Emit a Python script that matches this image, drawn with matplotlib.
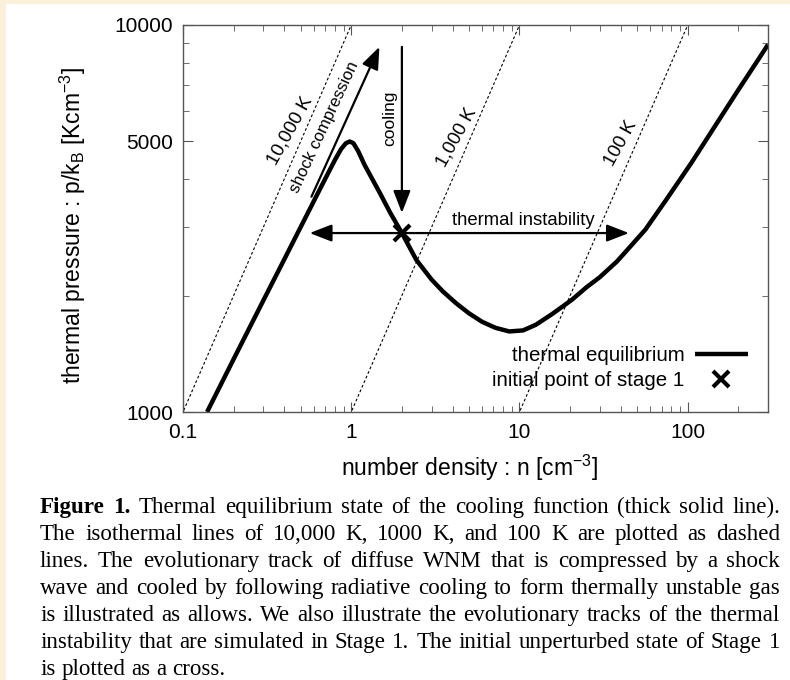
import matplotlib.pyplot as plt
from matplotlib.patches import Rectangle
from matplotlib.ticker import FixedLocator, NullFormatter

# thermal equilibrium curve (n [cm^-3], p/kB [K cm^-3])
n_eq = [0.139, 0.2, 0.3, 0.4, 0.48, 0.62, 0.72, 0.8, 0.87, 0.93, 0.98, 1.03,
        1.1, 1.2, 1.47, 1.7, 2.0, 2.44, 3.0, 3.5, 4.2, 5.0, 6.0, 7.2, 8.7,
        10.5, 12.5, 15.6, 20.5, 25, 30, 38, 45, 56, 75, 105, 150, 200, 263, 300]
p_eq = [1000, 1370, 1940, 2480, 2900, 3610, 4100, 4480, 4780, 4950, 5000, 4950,
        4720, 4350, 3700, 3280, 2900, 2470, 2200, 2050, 1910, 1800, 1710, 1650, 1615,
        1625, 1680, 1790, 1950, 2100, 2230, 2450, 2660, 2960, 3550, 4400, 5600, 6800, 8150, 8900]

# isotherms p = n T
iso_T = [10000, 1000, 100]
iso_labels = ['10,000 K', '1,000 K', '100 K']
iso_label_pos = [(0.436, 5325), (4.2, 5135), (40, 4955)]
iso_n = [0.01, 1000]

# initial point of stage 1 and evolutionary tracks
n_init, p_init = 2.0, 2900
shock_from, shock_to = (0.58, 3600), (1.47, 8780)
cool_from, cool_to = (2.0, 8780), (2.0, 3270)
ti_left, ti_right = 0.566, 44.7

x_ticks = [0.1, 1, 10, 100]
x_ticklabels = ['0.1', '1', '10', '100']
y_ticks = [1000, 5000, 10000]
y_ticklabels = ['1000', '5000', '10000']
y_minor = [2000, 3000, 4000, 6000, 7000, 8000, 9000]

caption_lines = [
    "Figure 1. Thermal equilibrium state of the cooling function (thick solid line).",
    "The isothermal lines of 10,000 K, 1000 K, and 100 K are plotted as dashed",
    "lines. The evolutionary track of diffuse WNM that is compressed by a shock",
    "wave and cooled by following radiative cooling to form thermally unstable gas",
    "is illustrated as allows. We also illustrate the evolutionary tracks of the thermal",
    "instability that are simulated in Stage 1. The initial unperturbed state of Stage 1",
    "is plotted as a cross.",
]

W, H = 790, 680
plt.rcParams['font.family'] = ['Liberation Sans', 'DejaVu Sans']
fig = plt.figure(figsize=(W / 100, H / 100), dpi=100, facecolor='#fbf0da')
fig.patches.append(Rectangle((6 / W, 0), 1, 1 - 4 / H, transform=fig.transFigure,
                             facecolor='white', edgecolor='none', zorder=-10))

ax = fig.add_axes([183 / W, 1 - 412 / H, (768 - 183) / W, (412 - 25) / H])
ax.set_zorder(2)
ax.set_xscale('log')
ax.set_yscale('log')
ax.set_xlim(0.1, 300)
ax.set_ylim(1000, 10000)

for T, lab, (lx, ly) in zip(iso_T, iso_labels, iso_label_pos):
    ax.plot(iso_n, [T * n for n in iso_n], color='black', lw=0.8, ls=(0, (2.5, 2)))
    ax.text(lx, ly, lab, rotation=61, ha='center', va='center', fontsize=13.5)

curve, = ax.plot(n_eq, p_eq, color='black', lw=3.2, solid_capstyle='butt',
                 solid_joinstyle='round', label='thermal equilibrium')
cross, = ax.plot([n_init], [p_init], ls='none', marker='x', ms=12, mew=3,
                 color='black', label='initial point of stage 1', zorder=5)

arrow = dict(arrowstyle='-|>,head_length=0.9,head_width=0.35', color='black',
             lw=1.6, mutation_scale=15, shrinkA=0, shrinkB=0)
ax.annotate('', xy=shock_to, xytext=shock_from, arrowprops=arrow)
ax.annotate('', xy=cool_to, xytext=cool_from, arrowprops=arrow)
ax.annotate('', xy=(ti_left, p_init), xytext=(n_init, p_init), arrowprops=arrow)
ax.annotate('', xy=(ti_right, p_init), xytext=(n_init, p_init), arrowprops=arrow)

ax.text(0.69, 5450, 'shock compression', rotation=65, ha='center', va='center', fontsize=12)
ax.text(1.69, 5750, 'cooling', rotation=90, ha='center', va='center', fontsize=12.5)
ax.text(10.6, 3134, 'thermal instability', ha='center', va='center', fontsize=13.3)

ax.set_xticks(x_ticks)
ax.set_xticklabels(x_ticklabels)
ax.set_yticks(y_ticks)
ax.set_yticklabels(y_ticklabels)
ax.yaxis.set_minor_locator(FixedLocator(y_minor))
ax.yaxis.set_minor_formatter(NullFormatter())
ax.xaxis.set_minor_formatter(NullFormatter())
ax.tick_params(which='both', direction='in', top=True, right=True,
               color='#555555', labelsize=15)
ax.tick_params(which='major', length=7)
ax.tick_params(which='minor', length=4)
ax.tick_params(axis='x', pad=8)
ax.tick_params(axis='y', pad=7)
for s in ax.spines.values():
    s.set_color('#555555')
    s.set_linewidth(1)

ax.set_xlabel(r'number density : n [cm$^{\mathregular{-3}}$]', fontsize=16.5)
ax.set_ylabel(r'thermal pressure : p/k$_{\mathregular{B}}$ [Kcm$^{\mathregular{-3}}$]', fontsize=16.5)
ax.xaxis.set_label_coords(0.49, -0.106)
ax.yaxis.set_label_coords(-0.162, 0.483)

ax.legend(handles=[curve, cross], loc='lower right', bbox_to_anchor=(0.98, 0.035),
          frameon=False, markerfirst=False, handlelength=2.6, handletextpad=0.5,
          labelspacing=0.3, borderaxespad=0, fontsize=14.8)

# caption, justified between left and right margins
cap_left, cap_right = 40, 780
cap_base, cap_step = 513, 27
renderer = fig.canvas.get_renderer()
cap_size = 14
widest = 0
for line in caption_lines:
    t = fig.text(0, 0, line, fontsize=cap_size, family='Liberation Serif')
    widest = max(widest, t.get_window_extent(renderer).width)
    t.remove()
cap_size = min(17.5, cap_size * (cap_right - cap_left - 6) / widest)

space = cap_size * 100 / 72 * 0.25
for i, line in enumerate(caption_lines):
    words = line.split(' ')
    y = 1 - (cap_base + i * cap_step) / H
    texts = []
    for j, w in enumerate(words):
        weight = 'bold' if (i == 0 and j < 2) else 'normal'
        texts.append(fig.text(0, y, w, fontsize=cap_size, family='Liberation Serif',
                              weight=weight, va='baseline'))
    widths = [t.get_window_extent(renderer).width for t in texts]
    if i < len(caption_lines) - 1:
        gap = (cap_right - cap_left - sum(widths)) / (len(words) - 1)
    else:
        gap = space
    x = cap_left
    for t, wd in zip(texts, widths):
        t.set_x(x / W)
        x += wd + gap

fig.savefig('out.png', dpi=100, facecolor=fig.get_facecolor())
